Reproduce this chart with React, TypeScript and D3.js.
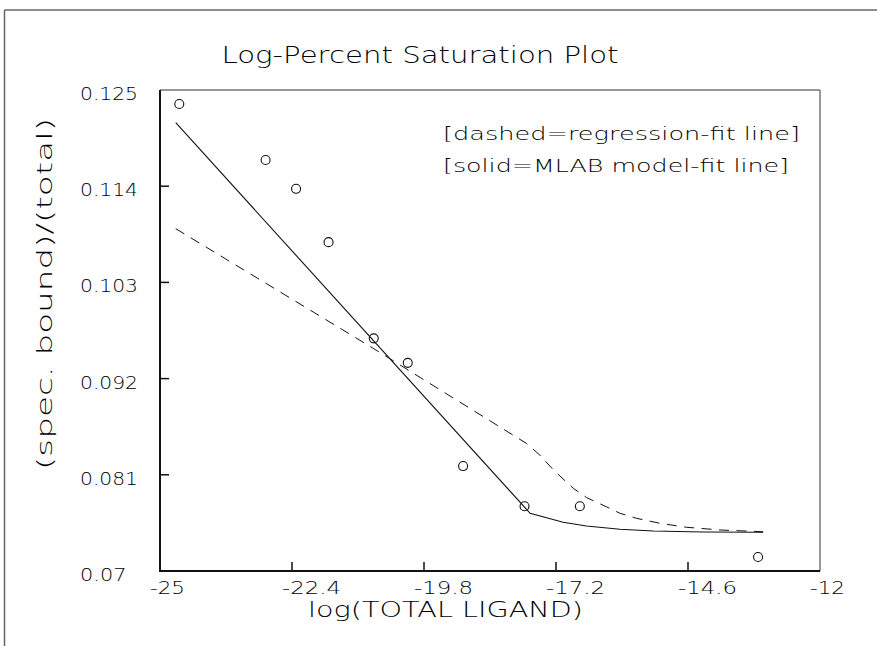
import React from 'react';
import * as d3 from 'd3';

const xTicks = [-25, -22.4, -19.8, -17.2, -14.6, -12];
const yTicks = [0.07, 0.081, 0.092, 0.103, 0.114, 0.125];
const xTickLabels = ['-25', '-22.4', '-19.8', '-17.2', '-14.6', '-12'];
const yTickLabels = ['0.07', '0.081', '0.092', '0.103', '0.114', '0.125'];

const pointX = [-24.62, -22.92, -22.32, -21.68, -20.79, -20.12, -19.03, -17.82, -16.73, -13.22];
const pointY = [0.1234, 0.117, 0.1137, 0.1076, 0.0966, 0.0938, 0.082, 0.0774, 0.0774, 0.0716];

const solidX = [-24.69, -17.71, -17.06, -16.6, -15.94, -15.28, -14.3, -13.12];
const solidY = [0.12126, 0.0766, 0.07557, 0.07515, 0.07477, 0.07457, 0.07446, 0.07443];

const dashedX = [-24.69, -20.8, -17.78, -17.52, -17.25, -16.86, -16.6, -16.2, -15.94, -15.61, -15.15, -14.63, -13.97, -13.12];
const dashedY = [0.10914, 0.09546, 0.08458, 0.08326, 0.08155, 0.07946, 0.0784, 0.07732, 0.0766, 0.07602, 0.07545, 0.075, 0.07469, 0.07449];

const titleText = 'Log-Percent Saturation Plot';
const xTitle = 'log(TOTAL LIGAND)';
const yTitle = '(spec. bound)/(total)';
const legendLines = ['[dashed=regression-fit line]', '[solid=MLAB model-fit line]'];

const W = 877;
const H = 646;
const L = 160, R = 820, T = 90, B = 571;
const FONT = "'DejaVu Sans', 'Liberation Sans', sans-serif";
const INK = '#000';

export default function App() {
  const x = d3.scaleLinear().domain([-25, -12]).range([L, R]);
  const y = d3.scaleLinear().domain([0.07, 0.125]).range([B, T]);

  const solid = d3.line<number>().x((d, i) => x(solidX[i])).y((d, i) => y(solidY[i])).curve(d3.curveLinear)(solidX);
  const dashed = d3.line<number>().x((d, i) => x(dashedX[i])).y((d, i) => y(dashedY[i])).curve(d3.curveLinear)(dashedX);

  const txt = { fontFamily: FONT, fontWeight: 200, fill: INK, lengthAdjust: 'spacingAndGlyphs' } as any;

  return (
    <svg width={W} height={H} style={{ position: 'absolute', left: 0, top: 0, display: 'block', background: '#fff' }}>
      {/* outer frame (left and top edges visible) */}
      <line x1={4.5} y1={10} x2={4.5} y2={H} stroke="#666" strokeWidth={1.5} />
      <line x1={4.5} y1={10} x2={W} y2={10} stroke="#666" strokeWidth={1.5} />

      <text x={420} y={63} textAnchor="middle" fontSize={23} textLength={397} {...txt}>{titleText}</text>

      {/* plot box */}
      <line x1={L} y1={T} x2={R} y2={T} stroke="#333" strokeWidth={1} />
      <line x1={R} y1={T} x2={R} y2={B} stroke="#333" strokeWidth={1} />
      <line x1={L} y1={T} x2={L} y2={B + 1} stroke="#111" strokeWidth={2} />
      <line x1={L - 1} y1={B} x2={R} y2={B} stroke="#111" strokeWidth={2} />

      {/* ticks */}
      {yTicks.map((v, i) => (
        <g key={'yt' + i}>
          {i > 0 && i < yTicks.length - 1 && (
            <line x1={L} x2={L + 9} y1={y(v)} y2={y(v)} stroke="#111" strokeWidth={1.5} />
          )}
          <text x={80} y={y(v) + 10} fontSize={17} textLength={yTickLabels[i].length * 11.6} {...txt}>{yTickLabels[i]}</text>
        </g>
      ))}
      {xTicks.map((v, i) => (
        <g key={'xt' + i}>
          {i > 0 && i < xTicks.length - 1 && (
            <line x1={x(v)} x2={x(v)} y1={B} y2={B - 9} stroke="#111" strokeWidth={1.5} />
          )}
          <text x={x(v) - 10} y={594} fontSize={17} textLength={xTickLabels[i].length * 12 - 1} {...txt}>{xTickLabels[i]}</text>
        </g>
      ))}

      <text x={308} y={617} fontSize={21} textLength={275} {...txt}>{xTitle}</text>
      <text transform={`translate(52,294) rotate(-90)`} textAnchor="middle" fontSize={21} textLength={352} {...txt}>{yTitle}</text>

      {/* legend */}
      <text x={443} y={140} fontSize={17} textLength={357} {...txt}>{legendLines[0]}</text>
      <text x={443} y={172} fontSize={17} textLength={346} {...txt}>{legendLines[1]}</text>

      {/* curves */}
      <path d={dashed || ''} fill="none" stroke="#111" strokeWidth={1} strokeDasharray="10,7.5" />
      <path d={solid || ''} fill="none" stroke="#111" strokeWidth={1.1} />

      {/* data points */}
      {pointX.map((v, i) => (
        <circle key={'p' + i} cx={x(v)} cy={y(pointY[i])} r={4.5} fill="none" stroke="#111" strokeWidth={1.1} />
      ))}
    </svg>
  );
}
